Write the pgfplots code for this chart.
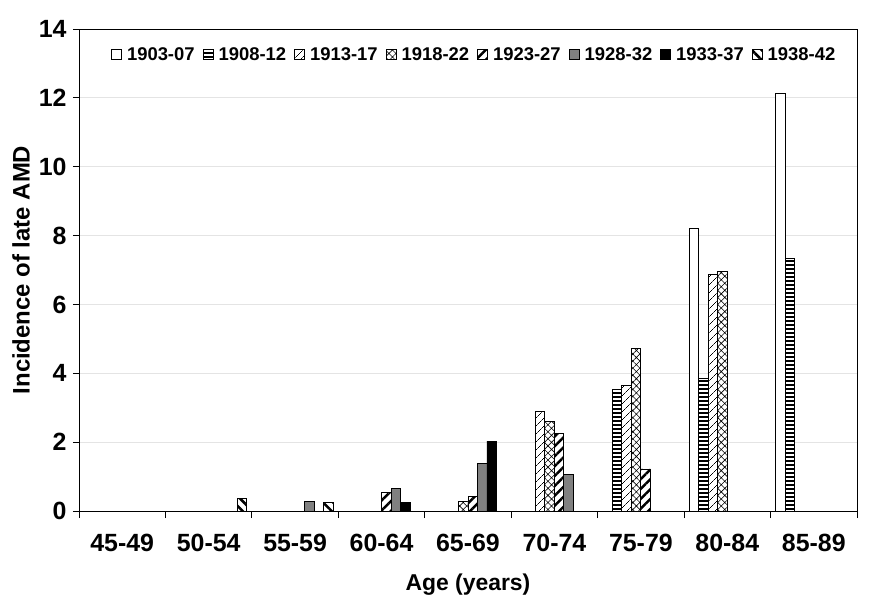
\documentclass[border=0pt]{standalone}
\usepackage{fontspec}
\setmainfont{Liberation Sans}
\usepackage{pgfplots}
\pgfplotsset{compat=1.18}
\usetikzlibrary{patterns.meta}

\definecolor{cgrid}{HTML}{E4E4E4}
\definecolor{cgrey}{HTML}{808080}

\pgfplotsset{
  cohort/.style={draw=black, line width=0.9bp, fill=white, postaction={pattern={#1}}},
  plain/.style={draw=black, line width=0.9bp, fill=#1},
}

\begin{document}
\begin{tikzpicture}
\path[use as bounding box] (-79bp,-94bp) rectangle (797bp,511bp);
\begin{axis}[
    at={(0,0)}, anchor=south west,
    width=778bp, height=482bp, scale only axis,
    ybar=0pt, bar width=9.5bp,
    xmin=-0.5, xmax=8.5, ymin=0, ymax=14,
    xtick={0,...,8},
    xticklabels={45-49,50-54,55-59,60-64,65-69,70-74,75-79,80-84,85-89},
    minor xtick={-0.5,0.5,...,8.5},
    ytick={0,2,...,14},
    xtick pos=lower, ytick pos=left,
    tick align=outside,
    major tick length=6bp, minor tick length=7bp,
    major x tick style={draw=none},
    minor x tick style={black, line width=0.9bp},
    major y tick style={black, line width=0.9bp},
    axis line style={black, line width=0.9bp},
    ymajorgrids, grid style={cgrid, line width=0.9bp},
    tick label style={font=\fontsize{25}{30}\selectfont\bfseries},
    /pgf/number format/assume math mode=true,
    xticklabel style={yshift=-14bp},
    yticklabel style={xshift=-3bp},
    xlabel={Age (years)},
    xlabel style={font=\fontsize{23}{27}\selectfont\bfseries,
        at={(axis description cs:0.5,-0.152)}, anchor=center},
    ylabel={Incidence of late AMD},
    ylabel style={font=\fontsize{24}{28}\selectfont\bfseries,
        at={(axis description cs:-0.0745,0.5)}, anchor=center, rotate=0},
    legend columns=8,
    legend style={at={(axis description cs:0.508,0.947)}, anchor=center,
        draw=none, fill=none, font=\fontsize{18.5}{22}\selectfont\bfseries,
        /tikz/every odd column/.append style={column sep=3bp},
        /tikz/every even column/.append style={column sep=6bp}},
    legend image code/.code={\draw[#1] (0bp,-5bp) rectangle (10bp,5bp);},
]
% 1903-07
\addplot[plain=white] coordinates {(7,8.22) (8,12.12)};
% 1908-12
\addplot[cohort={Lines[angle=0,distance=4bp,line width=2bp]}] coordinates {(6,3.52) (7,3.85) (8,7.33)};
% 1913-17
\addplot[cohort={Lines[angle=45,distance=6bp,line width=0.6bp]}] coordinates {(5,2.90) (6,3.65) (7,6.88)};
% 1918-22
\addplot[cohort={Hatch[angle=45,distance=5bp,line width=0.6bp]}] coordinates {(4,0.28) (5,2.60) (6,4.73) (7,6.97)};
% 1923-27
\addplot[cohort={Lines[angle=45,distance=7bp,line width=2.5bp]}] coordinates {(3,0.53) (4,0.43) (5,2.25) (6,1.22)};
% 1928-32
\addplot[plain=cgrey] coordinates {(2,0.27) (3,0.65) (4,1.38) (5,1.06)};
% 1933-37
\addplot[plain=black] coordinates {(3,0.26) (4,2.03)};
% 1938-42
\addplot[cohort={Lines[angle=-45,distance=7bp,line width=2.5bp]}] coordinates {(1,0.36) (2,0.24)};
\legend{1903-07,1908-12,1913-17,1918-22,1923-27,1928-32,1933-37,1938-42}
\end{axis}
\end{tikzpicture}
\end{document}
